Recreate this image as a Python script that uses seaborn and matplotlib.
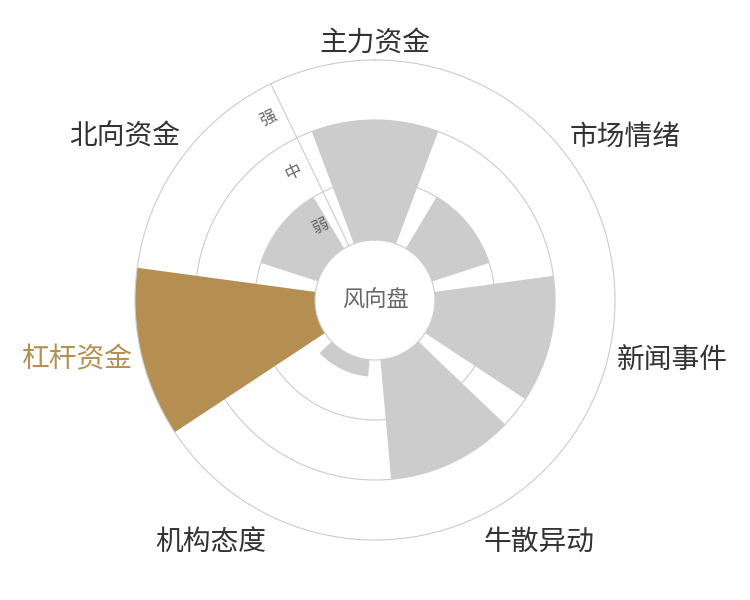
import numpy as np
import pandas as pd
import matplotlib
matplotlib.use("Agg")
import matplotlib.pyplot as plt
import seaborn as sns

# ----------------------------------
# Data
# ----------------------------------
categories = ["主力资金", "市场情绪", "新闻事件", "牛散异动", "机构态度", "杠杆资金", "北向资金"]
strength = [2.0, 1.0, 2.0, 2.0, 0.28, 3.0, 1.0]
level_labels = ["弱", "中", "强"]
highlight = "杠杆资金"
center_label = "风向盘"

GRAY = "#cccccc"
GOLD = "#b48f51"
TEXT = "#333333"
SUB = "#666666"

sns.set_theme(style="white")
plt.rcParams["font.family"] = ["Noto Sans CJK SC", "DejaVu Sans"]

n = len(categories)
step = 2 * np.pi / n
df = pd.DataFrame({
    "category": categories,
    "theta": np.arange(n) * step,
    "strength": strength,
})

# ----------------------------------
# Polar rose
# ----------------------------------
fig = plt.figure(figsize=(7.5, 6), dpi=100)
ax = fig.add_axes([0.18, 0.1, 0.64, 0.8], projection="polar")
ax.set_theta_zero_location("N")
ax.set_theta_direction(-1)

palette = {c: (GOLD if c == highlight else GRAY) for c in categories}
sns.barplot(
    data=df, x="theta", y="strength", hue="category", palette=palette,
    native_scale=True, orient="x", width=0.8, dodge=False, legend=False,
    errorbar=None, saturation=1, linewidth=0, ax=ax,
)

ax.set_rorigin(-1)
ax.set_ylim(0, 3)
ax.set_xticks([])
ax.set_yticks([1, 2])
ax.set_yticklabels([])
ax.set_xlabel("")
ax.set_ylabel("")
ax.grid(axis="y", color=GRAY, linewidth=0.8)
ax.set_axisbelow(True)
for name in ["polar", "inner"]:
    if name in ax.spines:
        ax.spines[name].set_color(GRAY)
        ax.spines[name].set_linewidth(0.8)

# radius axis line between first and last category
ax.plot([-step / 2, -step / 2], [0, 3], color=GRAY, linewidth=0.8, zorder=0.5)

# category labels
for i, cat in enumerate(categories):
    th = i * step
    sx, cy = np.sin(th), np.cos(th)
    ha = "center" if abs(sx) < 0.1 else ("left" if sx > 0 else "right")
    va = "bottom" if cy > 0.3 else ("top" if cy < -0.8 else "center")
    ax.annotate(cat, xy=(th, 3.1), xytext=(1.5 * np.sign(round(sx, 1)), -3.5),
                textcoords="offset points", ha=ha, va=va, fontsize=20,
                annotation_clip=False,
                color=GOLD if cat == highlight else TEXT)

# strength level labels along the axis line
for j, lab in enumerate(level_labels):
    ax.annotate(lab, xy=(-step / 2, j + 0.5), xytext=(-11.5, -5.5),
                textcoords="offset points", rotation=np.degrees(step / 2),
                rotation_mode="anchor", ha="center", va="center",
                fontsize=12, color=SUB)

fig.text(0.5, 0.5, center_label, ha="center", va="center", fontsize=16, color=SUB)

fig.savefig("out.png", dpi=100)
